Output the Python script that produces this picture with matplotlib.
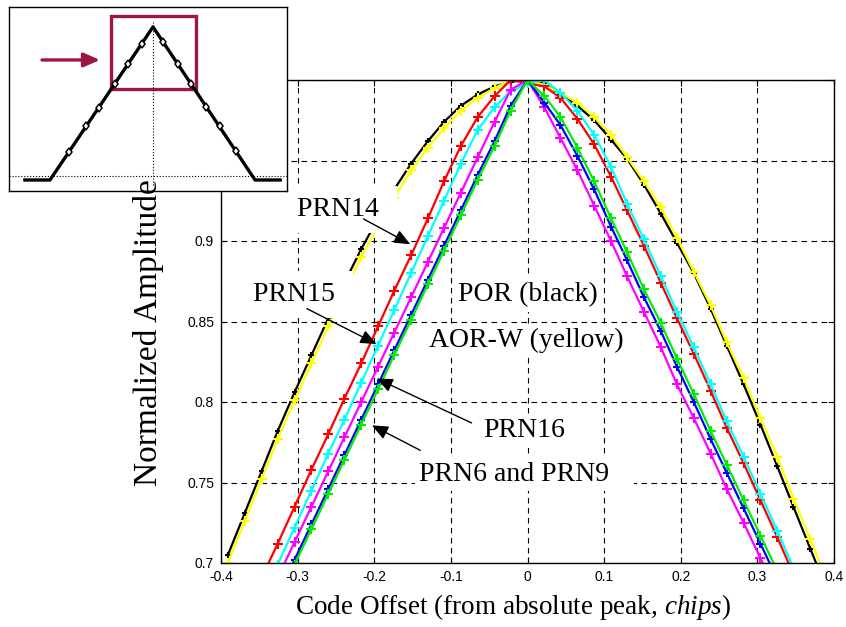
import matplotlib.pyplot as plt
from matplotlib.patches import Rectangle

plt.rcParams['axes.unicode_minus'] = False
plt.rcParams['mathtext.fontset'] = 'custom'
plt.rcParams['mathtext.rm'] = 'Liberation Serif'
plt.rcParams['mathtext.it'] = 'Liberation Serif:italic'

serif = {'family': 'Liberation Serif'}
sans = 'Liberation Sans'

# sample offsets (chips) shared by all correlator outputs
offsets = [-0.391, -0.369, -0.347, -0.326, -0.304, -0.282, -0.260, -0.239, -0.217,
           -0.195, -0.174, -0.152, -0.130, -0.109, -0.087, -0.065, -0.043, -0.022,
           0.0, 0.022, 0.043, 0.065, 0.087, 0.109, 0.130, 0.152, 0.174, 0.195,
           0.217, 0.239, 0.260, 0.282, 0.304, 0.326, 0.347, 0.369, 0.391]

por = [0.705, 0.731, 0.757, 0.782, 0.806, 0.829, 0.852, 0.874, 0.895, 0.914, 0.932,
       0.948, 0.962, 0.974, 0.984, 0.991, 0.996, 0.999, 1.000, 0.998, 0.991, 0.984,
       0.975, 0.963, 0.951, 0.935, 0.917, 0.899, 0.880, 0.858, 0.835, 0.811, 0.786,
       0.760, 0.735, 0.709, 0.683]
aorw = [0.700, 0.726, 0.752, 0.777, 0.801, 0.824, 0.847, 0.869, 0.890, 0.909, 0.927,
        0.944, 0.958, 0.970, 0.981, 0.989, 0.995, 1.000, 1.000, 0.997, 0.992, 0.986,
        0.977, 0.966, 0.952, 0.937, 0.921, 0.902, 0.881, 0.860, 0.837, 0.815, 0.790,
        0.766, 0.740, 0.715, 0.689]
prn14 = [0.645, 0.668, 0.691, 0.712, 0.735, 0.758, 0.780, 0.802, 0.824, 0.847, 0.869,
         0.891, 0.914, 0.937, 0.959, 0.977, 0.990, 1.000, 0.998, 0.996, 0.989, 0.976,
         0.960, 0.940, 0.919, 0.897, 0.874, 0.852, 0.830, 0.807, 0.784, 0.762, 0.739,
         0.716, 0.693, 0.670, 0.647]
prn15 = [0.631, 0.654, 0.677, 0.699, 0.722, 0.745, 0.768, 0.789, 0.812, 0.835, 0.857,
         0.880, 0.903, 0.925, 0.948, 0.969, 0.983, 0.993, 0.998, 1.000, 0.992, 0.981,
         0.966, 0.946, 0.923, 0.901, 0.878, 0.856, 0.834, 0.811, 0.788, 0.766, 0.743,
         0.720, 0.697, 0.674, 0.651]
prn16 = [0.626, 0.648, 0.670, 0.691, 0.713, 0.735, 0.757, 0.778, 0.800, 0.822, 0.843,
         0.865, 0.887, 0.908, 0.930, 0.952, 0.974, 0.994, 1.000, 0.983, 0.964, 0.944,
         0.922, 0.900, 0.878, 0.856, 0.834, 0.811, 0.790, 0.768, 0.746, 0.725, 0.703,
         0.681, 0.659, 0.637, 0.615]
prn6 = [0.615, 0.637, 0.659, 0.680, 0.702, 0.724, 0.746, 0.767, 0.789, 0.811, 0.832,
        0.854, 0.876, 0.897, 0.919, 0.941, 0.962, 0.984, 1.000, 0.986, 0.972, 0.953,
        0.932, 0.909, 0.888, 0.865, 0.844, 0.822, 0.800, 0.777, 0.756, 0.734, 0.712,
        0.690, 0.668, 0.646, 0.624]
prn9 = [0.612, 0.634, 0.656, 0.677, 0.699, 0.721, 0.743, 0.764, 0.786, 0.808, 0.829,
        0.851, 0.873, 0.894, 0.916, 0.938, 0.959, 0.981, 1.000, 0.990, 0.977, 0.958,
        0.937, 0.914, 0.893, 0.870, 0.849, 0.827, 0.805, 0.782, 0.761, 0.739, 0.717,
        0.695, 0.673, 0.651, 0.629]

xticks = [-0.4, -0.3, -0.2, -0.1, 0, 0.1, 0.2, 0.3, 0.4]
xticklabels = ['-0.4', '-0.3', '-0.2', '-0.1', '0', '0.1', '0.2', '0.3', '0.4']
yticks = [0.7, 0.75, 0.8, 0.85, 0.9, 0.95, 1.0]
yticklabels = ['0.7', '0.75', '0.8', '0.85', '0.9', '0.95', '1']

# inset sketch of the full correlation triangle
inset_x = [-1.25, -1.005, 0.0, 0.995, 1.24]
inset_y = [0.0, 0.0, 1.0, 0.0, 0.0]
inset_mx = [-0.82, -0.65, -0.53, -0.37, -0.24, -0.11, 0.10, 0.24, 0.37, 0.52, 0.65, 0.81]
inset_my = [0.18, 0.35, 0.47, 0.63, 0.76, 0.89, 0.90, 0.76, 0.63, 0.48, 0.35, 0.19]

maroon = '#9e1645'

fig = plt.figure(figsize=(8.46, 6.27), dpi=100)
ax = fig.add_axes([221 / 846, 1 - 563 / 627, 613 / 846, 483 / 627])

ax.plot(offsets, por, color='black', lw=1.6, marker='+', ms=5, mew=1.5)
ax.plot(offsets, aorw, color='#ffff00', lw=1.6, marker='+', ms=7, mew=1.5)
ax.plot(offsets, prn14, color='#ff0000', lw=1.6, marker='+', ms=7, mew=1.5)
ax.plot(offsets, prn15, color='#00ffff', lw=1.6, marker='+', ms=7, mew=1.5)
ax.plot(offsets, prn16, color='#ff00ff', lw=1.6, marker='+', ms=7, mew=1.5)
ax.plot(offsets, prn6, color='#0000ff', lw=1.6, marker='+', ms=6, mew=1.5)
ax.plot(offsets, prn9, color='#00ee00', lw=1.6, marker='+', ms=7, mew=1.5)

ax.set_xlim(-0.4, 0.4)
ax.set_ylim(0.7, 1.0)
ax.set_xticks(xticks)
ax.set_xticklabels(xticklabels, fontname=sans, fontsize=10)
ax.set_yticks(yticks)
ax.set_yticklabels(yticklabels, fontname=sans, fontsize=10)
ax.tick_params(direction='in', length=4, width=0.8, top=True, right=True, pad=5)
ax.grid(True, color='black', linestyle=(0, (5, 4)), linewidth=0.8)
for s in ax.spines.values():
    s.set_linewidth(1.0)

box = dict(facecolor='white', edgecolor='none', boxstyle='square,pad=0.4')
small_box = dict(facecolor='white', edgecolor='none', boxstyle='square,pad=0.15')
ax.text(-0.301, 0.9156, 'PRN14 ', fontsize=20, ha='left', va='baseline', bbox=box, **serif)
ax.text(-0.358, 0.8625, 'PRN15 ', fontsize=20, ha='left', va='baseline', bbox=box, **serif)
ax.text(0.0, 0.8625, 'POR (black)', fontsize=20, ha='center', va='baseline',
        bbox=small_box, **serif)
ax.text(-0.129, 0.834, 'AOR-W (yellow)   ', fontsize=20, ha='left', va='baseline',
        bbox=small_box, **serif)
ax.text(-0.058, 0.778, 'PRN16', fontsize=20, ha='left', va='baseline',
        bbox=small_box, **serif)
ax.text(-0.1416, 0.751, 'PRN6 and PRN9   ', fontsize=20, ha='left', va='baseline',
        bbox=small_box, **serif)

arrow = dict(arrowstyle='-|>,head_length=0.7,head_width=0.3', color='black', lw=1.0,
             shrinkA=0, shrinkB=0, mutation_scale=14)
ax.annotate('', xy=(-0.153, 0.898), xytext=(-0.214, 0.9137), arrowprops=arrow)
ax.annotate('', xy=(-0.197, 0.836), xytext=(-0.288, 0.858), arrowprops=arrow)
ax.annotate('', xy=(-0.197, 0.8146), xytext=(-0.073, 0.787), arrowprops=arrow)
ax.annotate('', xy=(-0.203, 0.7855), xytext=(-0.140, 0.770), arrowprops=arrow)

fig.text(148 / 846, 1 - 333 / 627, 'Normalized Amplitude', rotation=90, fontsize=24,
         ha='center', va='center', **serif)
fig.text(513 / 846, 1 - 607 / 627, r'Code Offset (from absolute peak, $\mathit{chips}$)',
         fontsize=19.5, ha='center', va='center', **serif)

# inset
ins = fig.add_axes([9 / 846, 1 - 191 / 627, 278 / 846, 184 / 627])
ins.set_facecolor('white')
ins.plot([-1.405, 1.307], [0.025, 0.025], color='black', lw=0.8, linestyle=':')
ins.plot([0, 0], [-0.03, 1.03], color='black', lw=0.8, linestyle=':')
ins.plot(inset_x, inset_y, color='black', lw=2.4)
ins.plot(inset_mx, inset_my, linestyle='none', marker='d', ms=4.5, mfc='white',
         mec='black', mew=1.1)
ins.add_patch(Rectangle((-0.41, 0.595), 0.83, 0.475, fill=False, edgecolor=maroon, lw=2.4))
ins.annotate('', xy=(-0.517, 0.784), xytext=(-1.083, 0.784),
             arrowprops=dict(arrowstyle='-|>,head_length=0.8,head_width=0.35',
                             color=maroon, lw=2.4, shrinkA=0, shrinkB=0,
                             mutation_scale=12))
ins.set_xlim(-1.405, 1.307)
ins.set_ylim(-0.072, 1.13)
ins.set_xticks([])
ins.set_yticks([])
for s in ins.spines.values():
    s.set_linewidth(1.0)

plt.savefig('out.png', dpi=100)
